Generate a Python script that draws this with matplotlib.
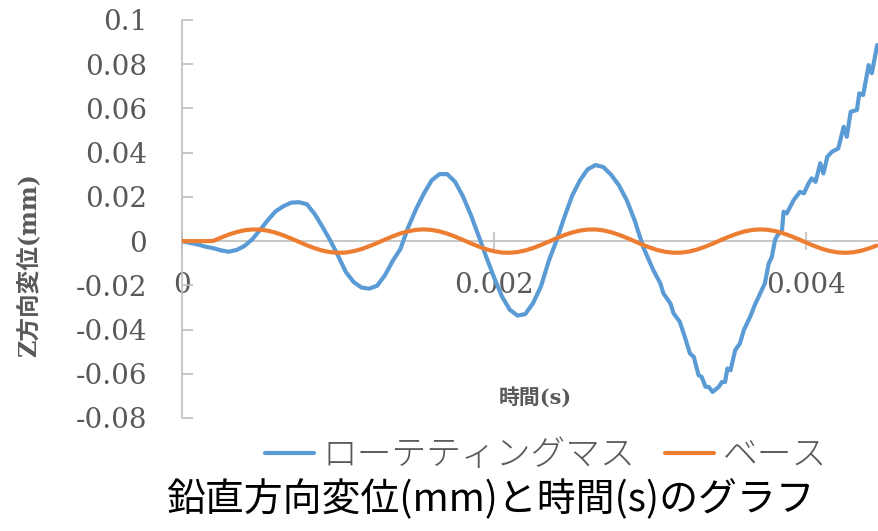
import numpy as np
import matplotlib
matplotlib.use("Agg")
import matplotlib.pyplot as plt
from matplotlib.font_manager import FontProperties

plt.rcParams['font.family'] = ['DejaVu Serif', 'Noto Sans CJK JP']

# ---- data (time in microseconds, displacement in mm) ----
series_names = ["ローテティングマス", "ベース"]

time_blue_us = [0, 50, 100, 150, 200, 250, 300, 350, 400, 450,
                500, 550, 600, 650, 700, 750, 800, 850, 900, 950,
                1000, 1050, 1100, 1150, 1200, 1250, 1300, 1350, 1400, 1450,
                1500, 1550, 1600, 1650, 1700, 1750, 1800, 1850, 1900, 1950,
                2000, 2050, 2100, 2150, 2200, 2250, 2300, 2350, 2400, 2450,
                2500, 2550, 2600, 2650, 2700, 2750, 2800, 2850, 2900,
                2955, 3020, 3065, 3085, 3130, 3150, 3190, 3225, 3255, 3280,
                3310, 3330, 3355, 3375, 3400, 3440, 3460, 3480, 3495, 3515,
                3545, 3575, 3600, 3640, 3675, 3705, 3735, 3760, 3780, 3800,
                3815, 3845, 3855, 3875, 3920, 3960, 3985, 4015, 4035,
                4060, 4090, 4110, 4135, 4165, 4205, 4240, 4260, 4285, 4325,
                4340, 4365, 4400, 4420, 4455]
rotating_mass = [0.0, -0.0008, -0.0015, -0.0025, -0.0032, -0.0042, -0.0048, -0.0040, -0.0022, 0.0008,
                 0.0050, 0.0095, 0.0135, 0.0158, 0.0174, 0.0176, 0.0167, 0.0123, 0.0065, 0.0003,
                 -0.0066, -0.0140, -0.0185, -0.0210, -0.0215, -0.0202, -0.0155, -0.0090, -0.0035, 0.0063,
                 0.0145, 0.0215, 0.0275, 0.0303, 0.0303, 0.0268, 0.0203, 0.0120, 0.0025, -0.0072,
                 -0.0165, -0.0250, -0.0310, -0.0337, -0.0330, -0.0280, -0.0205, -0.0090, 0.0003, 0.0108,
                 0.0205, 0.0275, 0.0325, 0.0344, 0.0335, 0.0300, 0.0252, 0.0185, 0.0095,
                 -0.0026, -0.0131, -0.0191, -0.0237, -0.0282, -0.0327, -0.0365, -0.0440, -0.0508, -0.0524,
                 -0.0606, -0.0614, -0.0659, -0.0659, -0.0682, -0.0659, -0.0637, -0.0637, -0.0576, -0.0584,
                 -0.0493, -0.0463, -0.0403, -0.0343, -0.0282, -0.0237, -0.0191, -0.0101, -0.0071, 0.0005,
                 0.0025, 0.0050, 0.0133, 0.0125, 0.0186, 0.0223, 0.0216, 0.0261, 0.0284,
                 0.0268, 0.0352, 0.0306, 0.0381, 0.0404, 0.0419, 0.0517, 0.0472, 0.0585, 0.0593,
                 0.0668, 0.0661, 0.0796, 0.0759, 0.0887]

time_orange_us = [0, 50, 100, 150, 200, 250, 300, 350, 400, 450,
                  500, 550, 600, 650, 700, 750, 800, 850, 900, 950,
                  1000, 1050, 1100, 1150, 1200, 1250, 1300, 1350, 1400, 1450,
                  1500, 1550, 1600, 1650, 1700, 1750, 1800, 1850, 1900, 1950,
                  2000, 2050, 2100, 2150, 2200, 2250, 2300, 2350, 2400, 2450,
                  2500, 2550, 2600, 2650, 2700, 2750, 2800, 2850, 2900, 2950,
                  3000, 3050, 3100, 3150, 3200, 3250, 3300, 3350, 3400, 3450,
                  3500, 3550, 3600, 3650, 3700, 3750, 3800, 3850, 3900, 3950,
                  4000, 4050, 4100, 4150, 4200, 4250, 4300, 4350, 4400, 4450]
base = [0.0, 0.0, 0.0, 0.0, 0.00006, 0.00158, 0.00296, 0.00410, 0.00489, 0.00527,
        0.00521, 0.00471, 0.00381, 0.00260, 0.00116, -0.00037, -0.00187, -0.00321, -0.00429, -0.00500,
        -0.00529, -0.00514, -0.00456, -0.00359, -0.00232, -0.00086, 0.00067, 0.00216, 0.00346, 0.00446,
        0.00509, 0.00530, 0.00506, 0.00439, 0.00336, 0.00205, 0.00055, -0.00098, -0.00243, -0.00368,
        -0.00462, -0.00517, -0.00529, -0.00496, -0.00421, -0.00312, -0.00175, -0.00025, 0.00128, 0.00271,
        0.00390, 0.00476, 0.00523, 0.00526, 0.00484, 0.00402, 0.00286, 0.00146, -0.00006, -0.00158,
        -0.00296, -0.00410, -0.00489, -0.00527, -0.00521, -0.00471, -0.00381, -0.00259, -0.00117, 0.00037,
        0.00187, 0.00321, 0.00429, 0.00500, 0.00529, 0.00514, 0.00456, 0.00359, 0.00232, 0.00086,
        -0.00067, -0.00216, -0.00346, -0.00446, -0.00509, -0.00530, -0.00506, -0.00439, -0.00336, -0.00205]

x_tick_values = [0, 0.002, 0.004]
x_tick_labels = ["0", "0.002", "0.004"]
y_tick_values = [0.1, 0.08, 0.06, 0.04, 0.02, 0, -0.02, -0.04, -0.06, -0.08]
y_tick_labels = ["0.1", "0.08", "0.06", "0.04", "0.02", "0", "-0.02", "-0.04", "-0.06", "-0.08"]

title_text = "鉛直方向変位(mm)と時間(s)のグラフ"
x_label_text = "時間(s)"
y_label_text = "Z方向変位(mm)"

# ---- figure ----
W, H = 879, 531
fig = plt.figure(figsize=(W / 100, H / 100), dpi=100)
ax = fig.add_axes([182 / W, 113 / H, 696 / W, 398 / H])

BLUE = '#5B9BD5'
ORANGE = '#ED7D31'
GRAY = '#BFBFBF'
TXT = '#595959'

l1, = ax.plot(np.array(time_blue_us) * 1e-6, rotating_mass, color=BLUE, lw=3.0,
              solid_joinstyle='round', solid_capstyle='round', zorder=3)
l2, = ax.plot(np.array(time_orange_us) * 1e-6, base, color=ORANGE, lw=3.0,
              solid_joinstyle='round', solid_capstyle='round', zorder=4)

ax.set_xlim(0, 0.00446)
ax.set_ylim(-0.08, 0.1)

for s in ['top', 'right']:
    ax.spines[s].set_visible(False)
ax.spines['bottom'].set_position(('data', 0))
ax.spines['bottom'].set_color(GRAY)
ax.spines['bottom'].set_linewidth(1.2)
ax.spines['left'].set_color(GRAY)
ax.spines['left'].set_linewidth(1.2)
ax.spines['bottom'].set_zorder(1)

ax.set_xticks(x_tick_values, x_tick_labels)
ax.set_yticks(y_tick_values, y_tick_labels)
ax.tick_params(axis='x', direction='inout', length=13, width=1.2, color=GRAY,
               pad=16, labelsize=20, labelcolor=TXT)
ax.tick_params(axis='y', direction='in', length=8, width=1.2, color=GRAY,
               pad=25, labelsize=20, labelcolor=TXT)

fig.text(535 / W, 1 - 397 / H, x_label_text, ha='center', va='center',
         fontsize=15, fontweight='bold', color=TXT,
         family=['DejaVu Serif', 'Noto Sans CJK JP'])
fig.text(28 / W, 1 - 265 / H, y_label_text, ha='center', va='center',
         rotation=90, fontsize=17, fontweight='bold', color=TXT,
         family=['DejaVu Serif', 'Noto Sans CJK JP'])

leg = fig.legend([l1, l2], series_names, loc='center',
                 bbox_to_anchor=(546 / W, 1 - 455 / H), ncol=2, frameon=False,
                 prop=FontProperties(family=['Noto Sans CJK JP'], size=25, weight='light'),
                 handlelength=1.4, handletextpad=0.25, columnspacing=0.85)
for t in leg.get_texts():
    t.set_color(TXT)

fig.text(490 / W, 1 - 500 / H, title_text, ha='center', va='center',
         fontsize=28, color='black', fontweight='normal', family=['Noto Sans CJK JP'])

fig.savefig('out.png', dpi=100)
